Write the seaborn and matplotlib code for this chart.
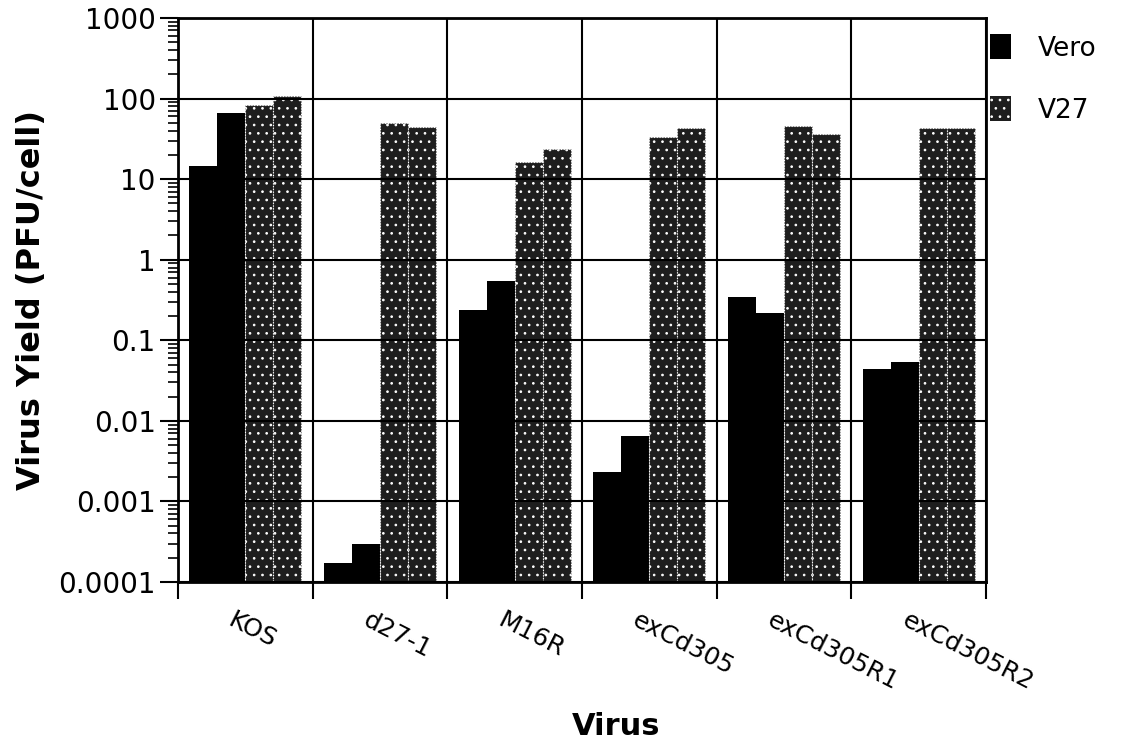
import numpy as np
import pandas as pd
import matplotlib
matplotlib.use("Agg")
import matplotlib.pyplot as plt
import matplotlib.transforms as mtransforms
from matplotlib.patches import Patch
from matplotlib.ticker import FixedLocator, LogLocator, FuncFormatter, NullFormatter
import seaborn as sns

# ---- data ----
viruses = ["KOS", "d27-1", "M16R", "exCd305", "exCd305R1", "exCd305R2"]
vero_1 = [14.6, 0.00017, 0.238, 0.00234, 0.343, 0.044]
vero_2 = [66, 0.0003, 0.547, 0.00645, 0.221, 0.0543]
v27_1 = [83, 50, 16.3, 33, 46, 43]
v27_2 = [108, 44, 24, 43, 36, 43]
series_names = ["Vero a", "Vero b", "V27 a", "V27 b"]
legend_labels = ["Vero", "V27"]
y_ticks = [0.0001, 0.001, 0.01, 0.1, 1, 10, 100, 1000]

rows = []
for name, vals in zip(series_names, [vero_1, vero_2, v27_1, v27_2]):
    for v, val in zip(viruses, vals):
        rows.append({"virus": v, "series": name, "value": val})
df = pd.DataFrame(rows)

sns.set_style("white")
plt.rcParams["font.family"] = ["DejaVu Sans"]
plt.rcParams["text.color"] = "black"
plt.rcParams["axes.labelcolor"] = "black"
plt.rcParams["xtick.color"] = "black"
plt.rcParams["ytick.color"] = "black"
plt.rcParams["hatch.linewidth"] = 0.7

fig = plt.figure(figsize=(11.23, 7.46), dpi=100)
W, H = 1123, 746
ax = fig.add_axes([178 / W, 1 - 582 / H, (986 - 178) / W, (582 - 18) / H])

dark = "#1e1e1e"
palette = {"Vero a": "black", "Vero b": "black", "V27 a": dark, "V27 b": dark}
sns.barplot(data=df, x="virus", y="value", hue="series", order=viruses,
            hue_order=series_names, palette=palette, width=0.83, saturation=1,
            errorbar=None, legend=False, ax=ax)
ax.set_yscale("log")

for cont in ax.containers[:2]:
    for p in cont.patches:
        p.set_linewidth(0)
for cont in ax.containers[2:]:
    for p in cont.patches:
        p.set_hatch("..")
        p.set_edgecolor("white")
        p.set_linewidth(0.8)
        p.set_linestyle((0, (1, 1.5)))

n = len(viruses)
ax.set_xlim(-0.5, n - 0.5)
ax.set_ylim(y_ticks[0], y_ticks[-1])

# x ticks at group boundaries, labels at group centres
ax.xaxis.set_major_locator(FixedLocator(np.arange(n + 1) - 0.5))
ax.xaxis.set_major_formatter(NullFormatter())
ax.set_xticks(np.arange(n), labels=viruses, minor=True)
ax.tick_params(axis="x", which="major", direction="out", length=12, width=1.5,
               color="black", bottom=True)
ax.tick_params(axis="x", which="minor", length=0, pad=19, labelsize=18)
offset = mtransforms.ScaledTranslation(-7 / 72, 0, fig.dpi_scale_trans)
for lab in ax.get_xticklabels(minor=True):
    lab.set_rotation(-27)
    lab.set_rotation_mode("anchor")
    lab.set_ha("left")
    lab.set_va("top")
    lab.set_transform(lab.get_transform() + offset)

ax.yaxis.set_major_locator(FixedLocator(y_ticks))
ax.yaxis.set_major_formatter(FuncFormatter(lambda v, p: f"{v:g}"))
ax.yaxis.set_minor_locator(LogLocator(base=10, subs=np.arange(2, 10), numticks=20))
ax.yaxis.set_minor_formatter(NullFormatter())
ax.tick_params(axis="y", which="major", direction="out", length=13, width=1.5,
               labelsize=20, pad=3, left=True)
ax.tick_params(axis="y", which="minor", direction="out", length=7, width=1.2, left=True)

ax.grid(True, which="major", axis="both", color="black", linewidth=1.5)
ax.set_axisbelow(False)
for s in ax.spines.values():
    s.set_color("black")
    s.set_linewidth(2.0)

ax.set_xlabel("Virus", fontsize=22, fontweight="bold")
ax.xaxis.set_label_coords((616 - 178) / 808, (582 - 712) / 564)
ax.set_ylabel("Virus Yield (PFU/cell)", fontsize=23, fontweight="bold")
ax.yaxis.set_label_coords((47 - 178) / 808, 0.5)

handles = [Patch(facecolor="black", edgecolor="black", linewidth=0),
           Patch(facecolor=dark, edgecolor="white", hatch="..", linewidth=0)]
leg = ax.legend(handles, legend_labels, loc="upper left",
                bbox_to_anchor=(990 / W, 1 - 34 / H), bbox_transform=fig.transFigure,
                frameon=False, fontsize=19, handlelength=0.8, handleheight=1.1,
                handletextpad=1.0, labelspacing=1.3, borderpad=0, borderaxespad=0)

fig.savefig("out.png", dpi=100)
